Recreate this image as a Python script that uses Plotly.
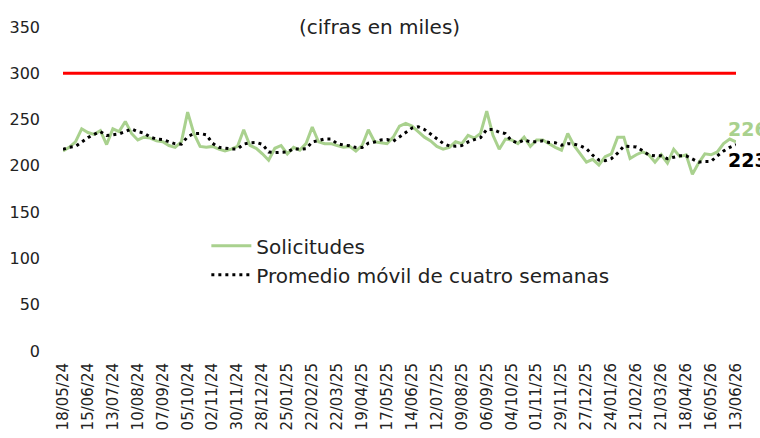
import pandas as pd
import plotly.graph_objects as go

# weekly dates (categories)
dates = [d.strftime("%d/%m/%y") for d in pd.date_range("2024-05-18", periods=109, freq="7D")]

solicitudes = [
    216, 220, 226, 240, 236, 234, 238, 223, 240, 237,
    248, 235, 228, 231, 230, 227, 226, 222, 220, 226,
    258, 235, 221, 220, 221, 218, 216, 218, 221, 239,
    222, 219, 213, 206, 219, 222, 213, 220, 217, 224,
    242, 226, 224, 224, 222, 220, 221, 216, 222, 239,
    226, 225, 224, 231, 243, 246, 243, 237, 231, 227,
    221, 218, 220, 226, 224, 233, 230, 235, 259, 233,
    218, 229, 228, 224, 231, 221, 228, 228, 224, 220,
    217, 235, 222, 213, 204, 207, 201, 210, 213, 231,
    231, 208, 212, 215, 212, 204, 212, 203, 218, 210,
    212, 191, 203, 213, 212, 215, 224, 229, 226,
]

promedio = [
    218, 220, 221, 225.5, 230.5, 234, 237, 232.8, 233.8, 234.5,
    237, 240, 237, 235.5, 231, 229, 228.5, 226.3, 223.8, 223.5,
    231.5, 234.8, 235, 233.5, 224.3, 220, 218.8, 218.3, 218.3, 223.5,
    225, 225.3, 223.3, 215, 214.3, 215, 215, 218.5, 218, 218.5,
    225.8, 227.3, 229, 229, 224, 222.5, 221.8, 219.8, 219.8, 224.5,
    225.8, 228, 228.5, 226.5, 230.8, 236, 240.8, 242.3, 239.3, 234.5,
    229, 224.3, 221.5, 221.3, 222, 225.8, 228.3, 230.5, 239.3, 239.3,
    236.3, 234.8, 227, 224.8, 228, 226, 226, 227, 225.3, 225,
    222.3, 224, 223.5, 221.8, 218.5, 211.5, 206.3, 205.5, 207.8, 213.8,
    221.3, 220.8, 220.5, 216.5, 211.8, 210.8, 210.8, 207.8, 209.3, 210.8,
    210.8, 207.8, 204, 204.8, 204.8, 210.8, 216, 220, 223,
]

umbral = [300] * len(dates)

tick_labels = [
    "18/05/24", "15/06/24", "13/07/24", "10/08/24", "07/09/24", "05/10/24", "02/11/24",
    "30/11/24", "28/12/24", "25/01/25", "22/02/25", "22/03/25", "19/04/25", "17/05/25",
    "14/06/25", "12/07/25", "09/08/25", "06/09/25", "04/10/25", "01/11/25", "29/11/25",
    "27/12/25", "24/01/26", "21/02/26", "21/03/26", "18/04/26", "16/05/26", "13/06/26",
]
y_ticks = [0, 50, 100, 150, 200, 250, 300, 350]

FONT = "DejaVu Sans"
GREEN = "#A9D18E"

fig = go.Figure()
fig.add_trace(go.Scatter(x=dates, y=umbral, mode="lines", showlegend=False,
                         line=dict(color="#FF0000", width=3), hoverinfo="skip"))
fig.add_trace(go.Scatter(x=dates, y=solicitudes, mode="lines", name="Solicitudes",
                         line=dict(color=GREEN, width=3)))
fig.add_trace(go.Scatter(x=dates, y=promedio, mode="lines",
                         name="Promedio móvil de cuatro semanas",
                         line=dict(color="black", width=3, dash="3px,4px")))

fig.add_annotation(x=dates[-1], y=solicitudes[-1], text="<b>%d</b>" % solicitudes[-1],
                   showarrow=False, xanchor="left", yanchor="middle", xshift=-10, yshift=13,
                   font=dict(family=FONT, size=19, color=GREEN))
fig.add_annotation(x=dates[-1], y=promedio[-1], text="<b>%d</b>" % promedio[-1],
                   showarrow=False, xanchor="left", yanchor="middle", xshift=-10, yshift=-15,
                   font=dict(family=FONT, size=19, color="black"))
fig.add_annotation(xref="paper", yref="paper", x=0.471, y=1.0, text="(cifras en miles)",
                   showarrow=False, xanchor="center", yanchor="middle",
                   font=dict(family=FONT, size=20, color="#222"))

fig.update_layout(
    width=760, height=438,
    margin=dict(l=63, r=24, t=27, b=87),
    plot_bgcolor="white", paper_bgcolor="white",
    font=dict(family=FONT, size=16, color="#222"),
    showlegend=True,
    legend=dict(x=0.213, y=0.385, xanchor="left", yanchor="top",
                bgcolor="rgba(0,0,0,0)", font=dict(family=FONT, size=20, color="#222"),
                itemwidth=40, tracegroupgap=0),
)
fig.update_xaxes(type="category", range=[0, len(dates) - 1],
                 tickmode="array", tickvals=dates[::4], ticktext=tick_labels,
                 tickangle=-90, showgrid=False, zeroline=False, showline=False,
                 ticks="", automargin=False, ticklabelstandoff=8,
                 tickfont=dict(family=FONT, size=15, color="#222"))
fig.update_yaxes(range=[0, 350], tickmode="array", tickvals=y_ticks,
                 showgrid=False, zeroline=False, showline=False, ticks="",
                 automargin=False, ticklabelstandoff=22,
                 tickfont=dict(family=FONT, size=16, color="#222"))

fig.write_html("out.html", config={"displayModeBar": False},
               post_script="document.body.style.margin='0';")
